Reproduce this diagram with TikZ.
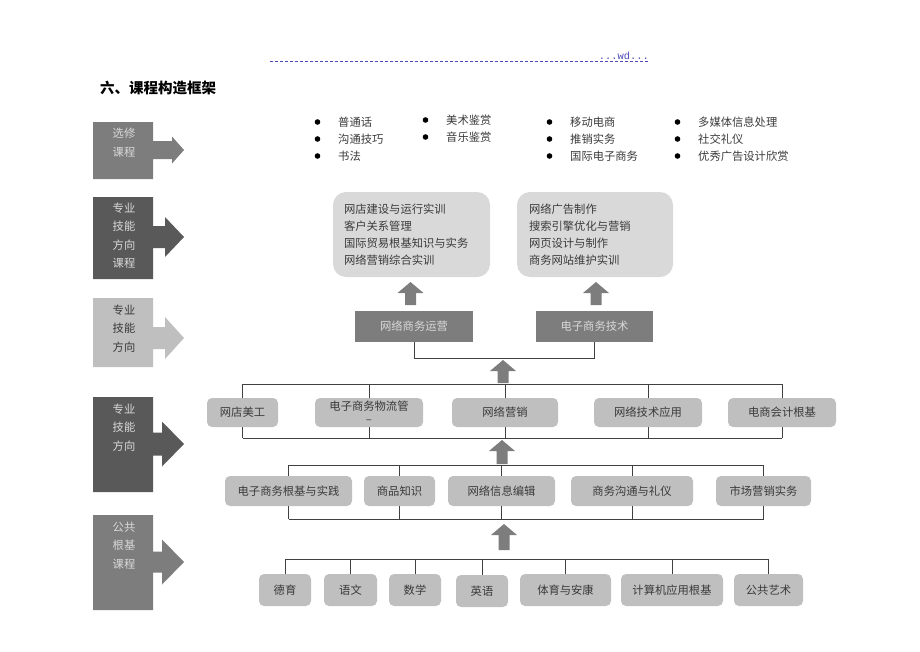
\documentclass[tikz,border=0pt]{standalone}
\usepackage{fontspec}
\setmainfont{Liberation Serif}
\setmonofont{Liberation Mono}
\newfontfamily\cjk{Noto Sans CJK SC}
\usetikzlibrary{positioning,calc}

\definecolor{darkgrey}{HTML}{595959}
\definecolor{midgrey}{HTML}{7D7D7D}
\definecolor{lightgrey}{HTML}{BFBFBF}
\definecolor{palegrey}{HTML}{D9D9D9}
\definecolor{textgrey}{HTML}{3A3A3A}
\definecolor{linegrey}{HTML}{404040}
\definecolor{headblue}{HTML}{4A4AB8}

\begin{document}
\begin{tikzpicture}[
    x=1pt, y=-1pt,
    every node/.style={font=\cjk\fontsize{11.3}{14}\selectfont, inner sep=0pt, text=textgrey},
    sidetext/.style={align=center, font=\cjk\fontsize{11.3}{18.5}\selectfont},
    elective/.style={anchor=west},
    group/.style={fill=palegrey, rounded corners=13pt, align=left, inner xsep=11pt, font=\cjk\fontsize{11.3}{17}\selectfont},
    track/.style={fill=midgrey, minimum height=31pt, text=palegrey},
    course/.style={fill=lightgrey, rounded corners=5pt, minimum height=29pt},
    link/.style={draw=linegrey, line width=0.8pt},
    uparr/.style={fill=midgrey},
    ]

\useasboundingbox (0,0) rectangle (920,651);

% header
\draw[headblue, line width=0.5pt, dash pattern=on 3pt off 2pt] (270,61) -- (648,61);
\node[anchor=south east, font=\ttfamily\fontsize{10.4}{12}\selectfont, text=headblue] (wd) at (649,60) {...wd...};
\node[anchor=west, font=\cjk\bfseries\fontsize{14.5}{16}\selectfont, text=black] (title) at (100,88) {六、课程构造框架};

% left column
\foreach \t/\b/\c/\h/\s/\hx/\col in {122/179/150/13.5/9/172/midgrey, 197/279/237/20/11/165/darkgrey, 298/367/338/21/11/165/lightgrey, 397/492/444/22.5/11.5/162/darkgrey, 515/610/562/22.5/10.5/162/midgrey}
    \fill[\col] (93,\t) -- (153,\t) -- (153,\c-\s) -- (\hx,\c-\s) -- (\hx,\c-\h) -- (184,\c)
        -- (\hx,\c+\h) -- (\hx,\c+\s) -- (153,\c+\s) -- (153,\b) -- (93,\b) -- cycle;

\node[sidetext, text=palegrey] (electlabel) at (124,142.5) {选修\\课程};
\node[sidetext, text=palegrey] (coursehead) at (124,235.5) {专业\\技能\\方向\\课程};
\node[sidetext] (trackhead) at (124,328.5) {专业\\技能\\方向};
\node[sidetext, text=palegrey] (corehead) at (124,427.5) {专业\\技能\\方向};
\node[sidetext, text=palegrey] (basehead) at (124,545.5) {公共\\根基\\课程};

% electives
\foreach \x/\y/\txt [count=\i] in {338/122/普通话, 338/139/沟通技巧, 338/156/书法,
    446/120/美术鉴赏, 446/137/音乐鉴赏,
    570/122/移动电商, 570/139/推销实务, 570/156/国际电子商务,
    698/122/多媒体信息处理, 698/139/社交礼仪, 698/156/优秀广告设计欣赏} {
    \fill[black] (\x-20.5,\y) circle (2.8pt);
    \node[elective] (elec\i) at (\x,\y) {\txt};
}

% direction courses
\node[group, minimum width=157pt, minimum height=85pt, text width=135pt] (opsgroup) at (411.5,234.5)
    {网店建设与运行实训\\客户关系管理\\国际贸易根基知识与实务\\网络营销综合实训};
\node[group, minimum width=154pt, minimum height=85pt, text width=132pt, inner xsep=12pt] (techgroup) at (595,234.5)
    {网络广告制作\\搜索引擎优化与营销\\网页设计与制作\\商务网站维护实训};

% directions
\node[track, minimum width=118pt] (ops) at (414,326.5) {网络商务运营};
\node[track, minimum width=117pt] (tech) at (594.5,326.5) {电子商务技术};
\draw[link] (ops.south) -- ++(0,16) -| (tech.south);

% core courses
\node[course, minimum width=71pt] (design) at (242.5,412.5) {网店美工};
\node[course, minimum width=108pt, align=center, font=\cjk\fontsize{11.3}{13}\selectfont] (logistics) at (369,412.5) {电子商务物流管\\–};
\node[course, minimum width=106pt] (marketing) at (505,412.5) {网络营销};
\node[course, minimum width=108pt] (netapp) at (648,412.5) {网络技术应用};
\node[course, minimum width=108pt] (account) at (782,412.5) {电商会计根基};

\coordinate (coretop) at (0,384);
\coordinate (corebot) at (0,438);
\foreach \n in {design, logistics, marketing, netapp, account} {
    \draw[link] (\n.north) -- (\n.north |- coretop);
    \draw[link] (\n.south) -- (\n.south |- corebot);
}
\draw[link] (design.north |- coretop) -- (account.north |- coretop);
\draw[link] (design.south |- corebot) -- (account.south |- corebot);

% basic professional courses
\node[course, minimum width=127pt, minimum height=30pt] (ecbase) at (288.5,491) {电子商务根基与实践};
\node[course, minimum width=71pt, minimum height=30pt] (goods) at (399.5,491) {商品知识};
\node[course, minimum width=107pt, minimum height=30pt] (editing) at (501.5,491) {网络信息编辑};
\node[course, minimum width=122pt, minimum height=30pt] (etiquette) at (632,491) {商务沟通与礼仪};
\node[course, minimum width=95pt, minimum height=30pt] (sales) at (763.5,491) {市场营销实务};

\coordinate (basetop) at (0,465);
\coordinate (basebot) at (0,519);
\foreach \n in {ecbase, goods, editing, etiquette, sales} {
    \draw[link] (\n.north) -- (\n.north |- basetop);
    \draw[link] (\n.south) -- (\n.south |- basebot);
}
\draw[link] (ecbase.north |- basetop) -- (sales.north |- basetop);
\draw[link] (ecbase.south |- basebot) -- (sales.south |- basebot);

% public courses
\node[course, minimum width=52pt, minimum height=32pt] (moral) at (285,590) {德育};
\node[course, minimum width=53pt, minimum height=32pt] (chinese) at (350.5,590) {语文};
\node[course, minimum width=52pt, minimum height=32pt] (maths) at (415,590) {数学};
\node[course, minimum width=52pt, minimum height=32pt] (english) at (482,591) {英语};
\node[course, minimum width=91pt, minimum height=32pt] (sports) at (565.5,590) {体育与安康};
\node[course, minimum width=102pt, minimum height=32pt] (computer) at (672,590) {计算机应用根基};
\node[course, minimum width=69pt, minimum height=32pt] (arts) at (768.5,590) {公共艺术};

\coordinate (pubtop) at (0,559);
\foreach \n in {moral, chinese, maths, english, sports, computer, arts}
    \draw[link] (\n.north) -- (\n.north |- pubtop);
\draw[link] (moral.north |- pubtop) -- (arts.north |- pubtop);

% block arrows
\foreach \ax/\tp/\bs in {410.5/282/305, 596/282/305, 503/360/383, 502/440/464, 504/524/550}
    \fill[uparr] (\ax-5.5,\bs) -- (\ax-5.5,\tp+11) -- (\ax-13,\tp+11) -- (\ax,\tp)
        -- (\ax+13,\tp+11) -- (\ax+5.5,\tp+11) -- (\ax+5.5,\bs) -- cycle;

\end{tikzpicture}
\end{document}
